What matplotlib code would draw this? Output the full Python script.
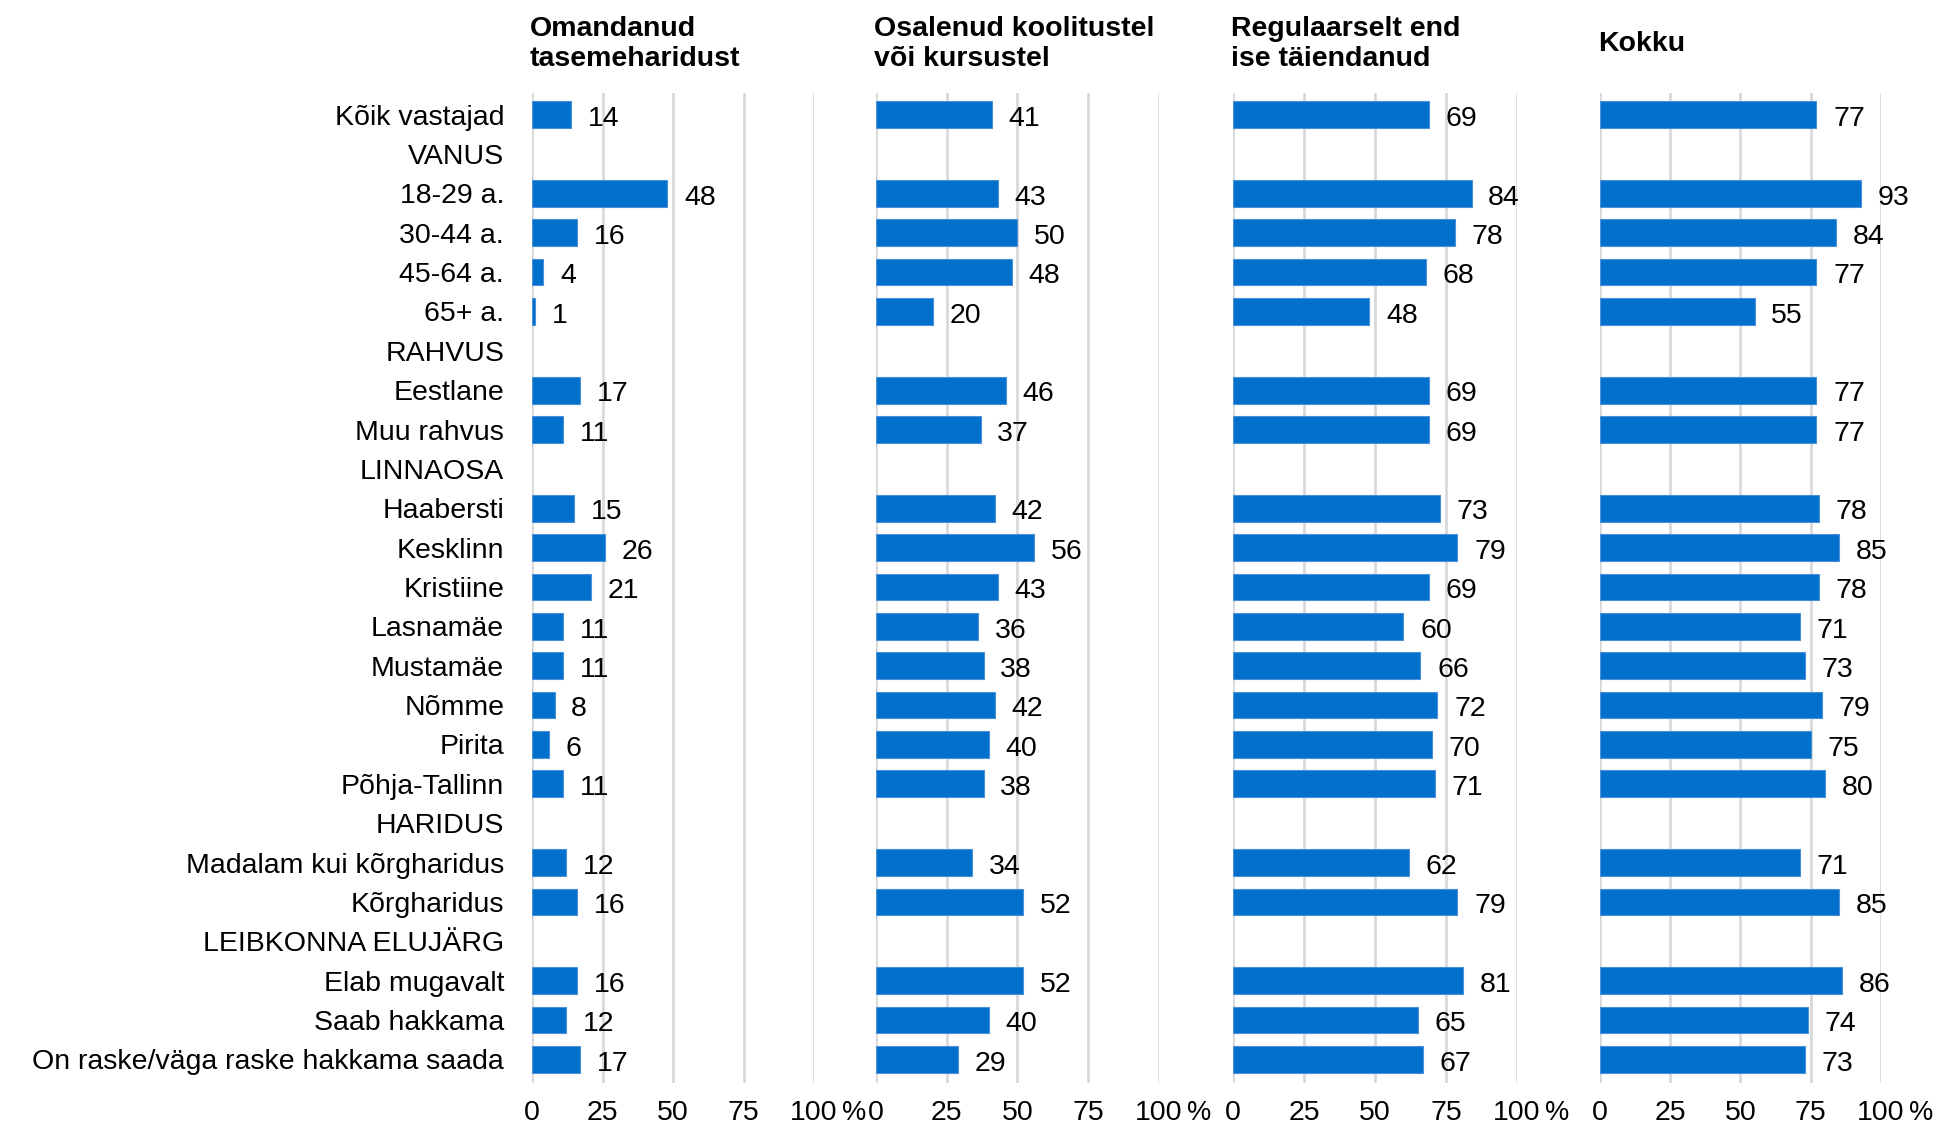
import matplotlib
matplotlib.use("Agg")
import matplotlib.pyplot as plt
import numpy as np

plt.rcParams['font.family'] = ['Liberation Sans', 'DejaVu Sans']

categories = ["Kõik vastajad", "VANUS", "18-29 a.", "30-44 a.", "45-64 a.", "65+ a.",
              "RAHVUS", "Eestlane", "Muu rahvus", "LINNAOSA", "Haabersti", "Kesklinn",
              "Kristiine", "Lasnamäe", "Mustamäe", "Nõmme", "Pirita", "Põhja-Tallinn",
              "HARIDUS", "Madalam kui kõrgharidus", "Kõrgharidus", "LEIBKONNA ELUJÄRG",
              "Elab mugavalt", "Saab hakkama", "On raske/väga raske hakkama saada"]

titles = ["Omandanud\ntasemeharidust", "Osalenud koolitustel\nvõi kursustel",
          "Regulaarselt end\nise täiendanud", "Kokku"]

N = None
omandanud = [14, N, 48, 16, 4, 1, N, 17, 11, N, 15, 26, 21, 11, 11, 8, 6, 11, N, 12, 16, N, 16, 12, 17]
osalenud = [41, N, 43, 50, 48, 20, N, 46, 37, N, 42, 56, 43, 36, 38, 42, 40, 38, N, 34, 52, N, 52, 40, 29]
regulaarselt = [69, N, 84, 78, 68, 48, N, 69, 69, N, 73, 79, 69, 60, 66, 72, 70, 71, N, 62, 79, N, 81, 65, 67]
kokku = [77, N, 93, 84, 77, 55, N, 77, 77, N, 78, 85, 78, 71, 73, 79, 75, 80, N, 71, 85, N, 86, 74, 73]

series = [omandanud, osalenud, regulaarselt, kokku]
xticks = [0, 25, 50, 75, 100]

W, H = 1940, 1130
fig = plt.figure(figsize=(W / 100, H / 100), dpi=100)

lefts_px = [532, 876, 1233, 1600]
widths_px = [282, 283, 284, 281]
top_px, bot_px = 93, 1083

bar_color = '#0070CC'
fs = 20.5

for k, (vals, title) in enumerate(zip(series, titles)):
    ax = fig.add_axes([lefts_px[k] / W, 1 - bot_px / H, widths_px[k] / W, (bot_px - top_px) / H])
    y = np.arange(len(categories))
    for i, v in enumerate(vals):
        if v is None:
            continue
        ax.barh(i, v, height=0.68, color=bar_color, edgecolor='#4a90d6', linewidth=0.8, zorder=3)
        ax.annotate(str(v), xy=(v, i), xytext=(12, -3), textcoords='offset points',
                    ha='left', va='center', fontsize=fs, color='#000000', zorder=4)
    ax.set_xlim(0, 100)
    ax.set_ylim(len(categories) - 0.4, -0.55)
    ax.set_xticks(xticks)
    ax.set_xticklabels([str(t) for t in xticks], fontsize=fs)
    ax.tick_params(axis='x', length=0, pad=12)
    ax.annotate('%', xy=(100, 0), xycoords=('data', 'axes fraction'), xytext=(20, -12),
                textcoords='offset points', ha='left', va='top', fontsize=fs - 1)
    for t in xticks:
        ax.axvline(t, color='#d9d9d9', linewidth=2, zorder=1)
    if k == 0:
        ax.set_yticks(y)
        ax.set_yticklabels(categories, fontsize=fs)
        ax.tick_params(axis='y', length=0, pad=20)
    else:
        ax.set_yticks([])
    for s in ax.spines.values():
        s.set_visible(False)
    fig.text(lefts_px[k] / W - 0.001, 1 - 44 / H, title, ha='left', va='center',
             fontsize=fs, fontweight='bold', linespacing=1.15)

fig.savefig('out.png', dpi=100)
